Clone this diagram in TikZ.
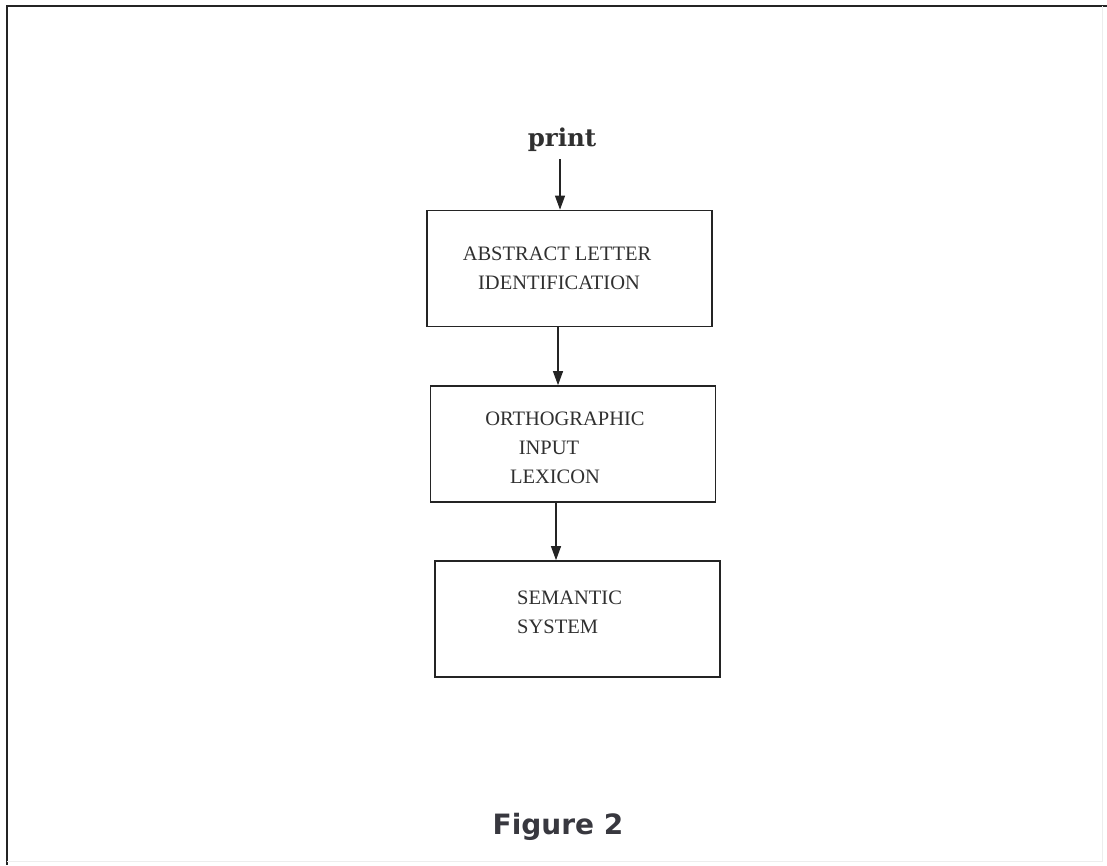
\documentclass[tikz,border=0pt]{standalone}
\usepackage{fontspec}
\setmainfont{Liberation Serif}
\newfontfamily\printfont{DejaVu Serif}
\newfontfamily\capfont{DejaVu Sans}
\usetikzlibrary{arrows.meta}
\definecolor{ink}{HTML}{242424}
\definecolor{txt}{HTML}{303030}
\definecolor{captxt}{HTML}{38383F}
\tikzset{
  stage/.style={draw=ink, line width=1.7pt, minimum width=285pt, minimum height=116pt, inner sep=0pt},
  label/.style={text=txt, font=\fontsize{20.5}{24}\selectfont, inner sep=0pt, anchor=base},
  flow/.style={draw=ink, line width=1.1pt, -{Triangle[length=14pt,width=10pt]}},
  frame/.style={draw=ink, line width=2.8pt},
  faint/.style={draw=black!7, line width=1pt}
}
\begin{document}
\begin{tikzpicture}[x=1pt,y=-1pt]
  \useasboundingbox (0,0) rectangle (1107,865);
  % outer frame: dark top and left edges, faint right and bottom
  \draw[frame] (7,865) -- (7,6) -- (1107,6);
  \draw[faint] (1102,6) -- (1102,861) -- (7,861);

  % input word
  \node[text=txt, font=\printfont\bfseries\fontsize{24.5}{28}\selectfont, inner sep=0pt, anchor=base] (print) at (562,146) {print};

  % processing stages
  \node[stage] (b1) at (569.5,268.5) {};
  \node[stage] (b2) at (573,444) {};
  \node[stage] (b3) at (577.5,619) {};

  \node[label] (t1a) at (557,260) {ABSTRACT LETTER};
  \node[label] (t1b) at (559,289) {IDENTIFICATION};

  \node[label] (t2a) at (565,425) {ORTHOGRAPHIC};
  \node[label] (t2b) at (549,454) {INPUT};
  \node[label] (t2c) at (555,483) {LEXICON};

  \node[label, anchor=base west] (t3a) at (517,604) {SEMANTIC};
  \node[label, anchor=base west] (t3b) at (517,633) {SYSTEM};

  % connectors
  \coordinate (c1) at (560,159);
  \coordinate (c2) at (558,0);
  \coordinate (c3) at (556,0);
  \draw[flow] (c1) -- (c1 |- b1.north);
  \draw[flow] (c2 |- b1.south) -- (c2 |- b2.north);
  \draw[flow] (c3 |- b2.south) -- (c3 |- b3.north);

  % caption
  \node[text=captxt, font=\capfont\bfseries\fontsize{28}{32}\selectfont, inner sep=0pt, anchor=base] (cap) at (558,834) {Figure 2};
\end{tikzpicture}
\end{document}
